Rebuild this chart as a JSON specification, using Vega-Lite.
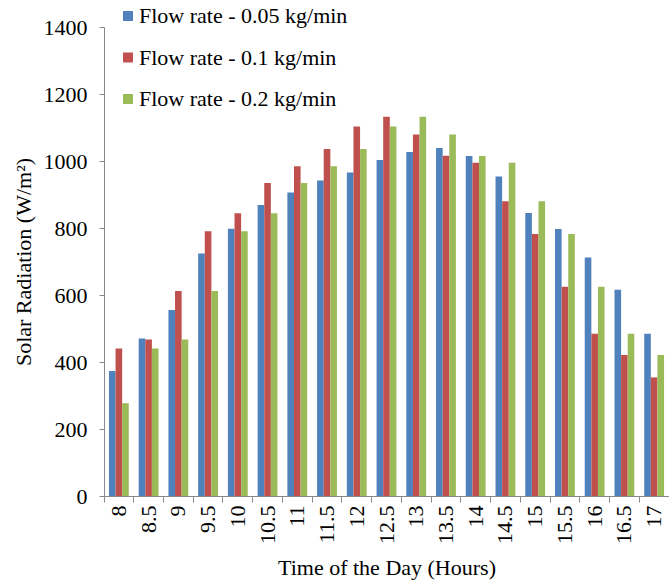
{
  "$schema": "https://vega.github.io/schema/vega-lite/v6.json",
  "autosize": {"type": "none"},
  "padding": {"left": 104, "top": 27, "right": 0, "bottom": 89},
  "width": 565,
  "height": 469,
  "background": "white",
  "config": {
    "view": {"stroke": null},
    "font": "Liberation Serif",
    "axis": {"labelFont": "Liberation Serif", "titleFont": "Liberation Serif", "labelColor": "#000", "titleColor": "#000", "domainColor": "#888", "tickColor": "#888", "titleFontWeight": "normal"},
    "legend": {"labelFont": "Liberation Serif"}
  },
  "data": {
    "values": [
      {"time": "8", "series": "Flow rate - 0.05 kg/min", "value": 373},
      {"time": "8", "series": "Flow rate - 0.1 kg/min", "value": 440},
      {"time": "8", "series": "Flow rate - 0.2 kg/min", "value": 277},
      {"time": "8.5", "series": "Flow rate - 0.05 kg/min", "value": 470},
      {"time": "8.5", "series": "Flow rate - 0.1 kg/min", "value": 467},
      {"time": "8.5", "series": "Flow rate - 0.2 kg/min", "value": 440},
      {"time": "9", "series": "Flow rate - 0.05 kg/min", "value": 555},
      {"time": "9", "series": "Flow rate - 0.1 kg/min", "value": 612},
      {"time": "9", "series": "Flow rate - 0.2 kg/min", "value": 467},
      {"time": "9.5", "series": "Flow rate - 0.05 kg/min", "value": 724},
      {"time": "9.5", "series": "Flow rate - 0.1 kg/min", "value": 790},
      {"time": "9.5", "series": "Flow rate - 0.2 kg/min", "value": 612},
      {"time": "10", "series": "Flow rate - 0.05 kg/min", "value": 798},
      {"time": "10", "series": "Flow rate - 0.1 kg/min", "value": 844},
      {"time": "10", "series": "Flow rate - 0.2 kg/min", "value": 790},
      {"time": "10.5", "series": "Flow rate - 0.05 kg/min", "value": 869},
      {"time": "10.5", "series": "Flow rate - 0.1 kg/min", "value": 934},
      {"time": "10.5", "series": "Flow rate - 0.2 kg/min", "value": 844},
      {"time": "11", "series": "Flow rate - 0.05 kg/min", "value": 906},
      {"time": "11", "series": "Flow rate - 0.1 kg/min", "value": 984},
      {"time": "11", "series": "Flow rate - 0.2 kg/min", "value": 934},
      {"time": "11.5", "series": "Flow rate - 0.05 kg/min", "value": 942},
      {"time": "11.5", "series": "Flow rate - 0.1 kg/min", "value": 1036},
      {"time": "11.5", "series": "Flow rate - 0.2 kg/min", "value": 984},
      {"time": "12", "series": "Flow rate - 0.05 kg/min", "value": 966},
      {"time": "12", "series": "Flow rate - 0.1 kg/min", "value": 1103},
      {"time": "12", "series": "Flow rate - 0.2 kg/min", "value": 1036},
      {"time": "12.5", "series": "Flow rate - 0.05 kg/min", "value": 1003},
      {"time": "12.5", "series": "Flow rate - 0.1 kg/min", "value": 1132},
      {"time": "12.5", "series": "Flow rate - 0.2 kg/min", "value": 1103},
      {"time": "13", "series": "Flow rate - 0.05 kg/min", "value": 1027},
      {"time": "13", "series": "Flow rate - 0.1 kg/min", "value": 1079},
      {"time": "13", "series": "Flow rate - 0.2 kg/min", "value": 1132},
      {"time": "13.5", "series": "Flow rate - 0.05 kg/min", "value": 1039},
      {"time": "13.5", "series": "Flow rate - 0.1 kg/min", "value": 1016},
      {"time": "13.5", "series": "Flow rate - 0.2 kg/min", "value": 1079},
      {"time": "14", "series": "Flow rate - 0.05 kg/min", "value": 1015},
      {"time": "14", "series": "Flow rate - 0.1 kg/min", "value": 995},
      {"time": "14", "series": "Flow rate - 0.2 kg/min", "value": 1015},
      {"time": "14.5", "series": "Flow rate - 0.05 kg/min", "value": 954},
      {"time": "14.5", "series": "Flow rate - 0.1 kg/min", "value": 880},
      {"time": "14.5", "series": "Flow rate - 0.2 kg/min", "value": 995},
      {"time": "15", "series": "Flow rate - 0.05 kg/min", "value": 845},
      {"time": "15", "series": "Flow rate - 0.1 kg/min", "value": 782},
      {"time": "15", "series": "Flow rate - 0.2 kg/min", "value": 880},
      {"time": "15.5", "series": "Flow rate - 0.05 kg/min", "value": 797},
      {"time": "15.5", "series": "Flow rate - 0.1 kg/min", "value": 625},
      {"time": "15.5", "series": "Flow rate - 0.2 kg/min", "value": 782},
      {"time": "16", "series": "Flow rate - 0.05 kg/min", "value": 712},
      {"time": "16", "series": "Flow rate - 0.1 kg/min", "value": 484},
      {"time": "16", "series": "Flow rate - 0.2 kg/min", "value": 625},
      {"time": "16.5", "series": "Flow rate - 0.05 kg/min", "value": 616},
      {"time": "16.5", "series": "Flow rate - 0.1 kg/min", "value": 421},
      {"time": "16.5", "series": "Flow rate - 0.2 kg/min", "value": 484},
      {"time": "17", "series": "Flow rate - 0.05 kg/min", "value": 484},
      {"time": "17", "series": "Flow rate - 0.1 kg/min", "value": 354},
      {"time": "17", "series": "Flow rate - 0.2 kg/min", "value": 421}
    ]
  },
  "mark": {"type": "bar", "strokeWidth": 0},
  "encoding": {
    "x": {
      "field": "time",
      "type": "nominal",
      "sort": null,
      "scale": {"paddingInner": 0, "paddingOuter": 0},
      "axis": {
        "title": "Time of the Day (Hours)",
        "titleFont": "Liberation Serif",
        "titleFontSize": 22,
        "titlePadding": 14,
        "labelFont": "Liberation Serif",
        "labelAngle": -90,
        "labelFontSize": 22,
        "labelPadding": 3,
        "bandPosition": 0,
        "tickSize": 6,
        "grid": false
      }
    },
    "xOffset": {
      "field": "series",
      "type": "nominal",
      "sort": null,
      "scale": {"paddingInner": 0, "paddingOuter": 0.75}
    },
    "y": {
      "field": "value",
      "type": "quantitative",
      "scale": {"domain": [0, 1400], "nice": false},
      "axis": {
        "title": "Solar Radiation (W/m²)",
        "titleFont": "Liberation Serif",
        "titleFontSize": 22,
        "titlePadding": 8,
        "values": [0, 200, 400, 600, 800, 1000, 1200, 1400],
        "format": "d",
        "labelFont": "Liberation Serif",
        "labelFontSize": 22,
        "labelPadding": 12,
        "tickSize": 5,
        "grid": false
      }
    },
    "color": {
      "field": "series",
      "type": "nominal",
      "sort": null,
      "scale": {"range": ["#4F81BD", "#C0504D", "#9BBB59"]},
      "legend": {
        "title": null,
        "orient": "none",
        "legendX": 13,
        "legendY": -22,
        "symbolType": "square",
        "symbolSize": 100,
        "symbolStrokeWidth": 0,
        "labelFont": "Liberation Serif",
        "labelFontSize": 22,
        "labelLimit": 0,
        "labelOffset": 0,
        "rowPadding": 19.5,
        "labelColor": "#000"
      }
    }
  }
}
